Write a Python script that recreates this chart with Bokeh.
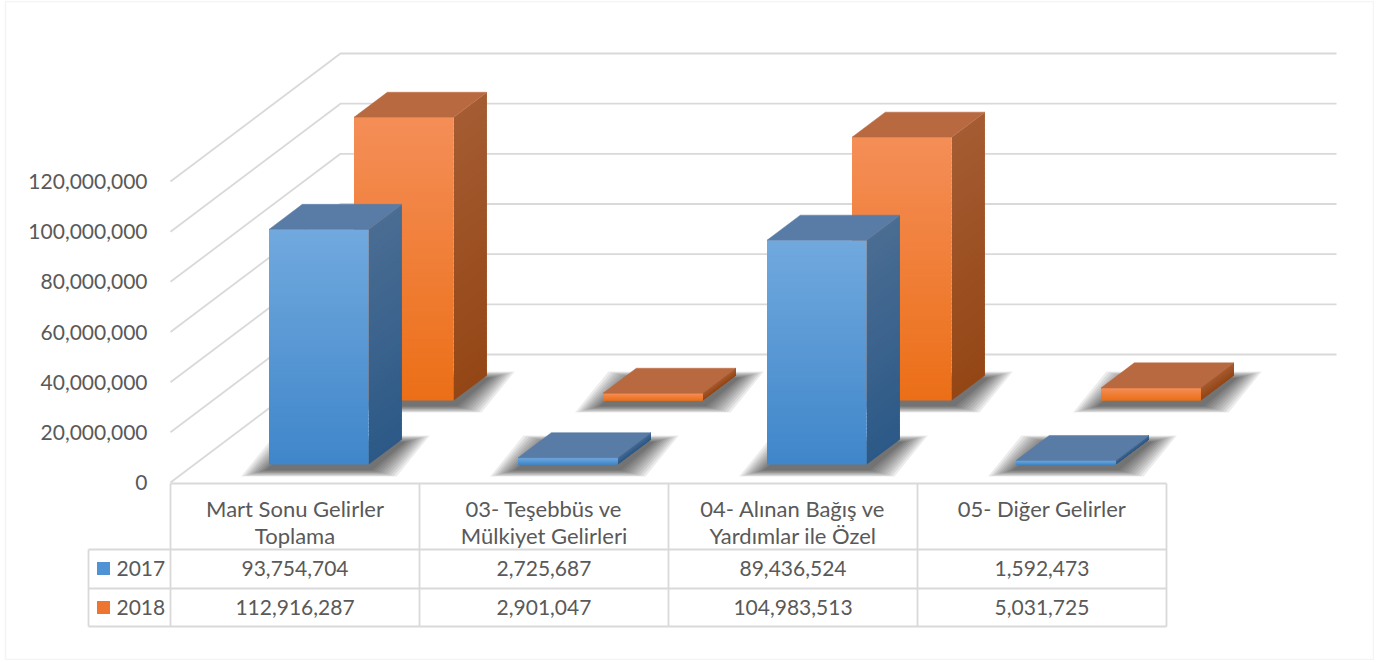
import numpy as np
from bokeh.plotting import figure
from bokeh.models import Range1d, FixedTicker, NumeralTickFormatter, BoxAnnotation
from bokeh.core.properties import value
from bokeh.embed import file_html
from bokeh.resources import INLINE

# ---------------- data ----------------
categories = [
    "Mart Sonu Gelirler\nToplama",
    "03- Teşebbüs ve\nMülkiyet Gelirleri",
    "04- Alınan Bağış ve\nYardımlar ile Özel",
    "05- Diğer Gelirler",
]
series_names = ["2017", "2018"]
values_2017 = [93754704, 2725687, 89436524, 1592473]
values_2018 = [112916287, 2901047, 104983513, 5031725]
y_ticks = [0, 20000000, 40000000, 60000000, 80000000, 100000000, 120000000]

# ---------------- layout (pixels) ----------------
W, H = 1374, 660
ORIGIN_X = 170          # frame px of the front-left floor corner
ORIGIN_Y = 482          # frame px (from top) of value 0 at the front
CAT_PX = 249            # pixels per category
PX_PER_UNIT = 301 / 120e6
DEPTH_PX = (170, 128)   # oblique depth vector (right, up)

DX = DEPTH_PX[0] / CAT_PX
DY = DEPTH_PX[1] / PX_PER_UNIT


def hx(px):
    return px / CAT_PX


def vy(px):
    return px / PX_PER_UNIT


x_range = Range1d(-ORIGIN_X / CAT_PX, (W - ORIGIN_X) / CAT_PX)
y_range = Range1d(-(H - ORIGIN_Y) / PX_PER_UNIT, ORIGIN_Y / PX_PER_UNIT)

FONT = "Lato"
TXT = "#595959"
GRID = "#d9d9d9"

p = figure(width=W, height=H, x_range=x_range, y_range=y_range,
           output_backend="svg", toolbar_location=None, min_border=0,
           x_axis_location=None, y_axis_location="left")
p.grid.visible = False
p.outline_line_color = None
p.background_fill_color = "white"
p.border_fill_color = "white"

# chart border
p.add_layout(BoxAnnotation(left=hx(5 - ORIGIN_X), right=hx(1373 - ORIGIN_X),
                           top=vy(ORIGIN_Y - 1), bottom=-vy(659 - ORIGIN_Y),
                           fill_alpha=0, line_color=GRID, line_width=1.5))

yax = p.yaxis[0]
yax.fixed_location = 0
yax.ticker = FixedTicker(ticks=y_ticks)
yax.formatter = NumeralTickFormatter(format="0,0")
yax.axis_line_color = None
yax.major_tick_line_color = None
yax.minor_tick_line_color = None
yax.major_tick_out = 0
yax.major_label_standoff = 23
yax.major_label_text_font = FONT
yax.major_label_text_font_size = "21px"
yax.major_label_text_color = TXT

ncat = len(categories)

# ---------------- walls ----------------
wx, wy = [], []
for t in y_ticks:
    wx.append([0, DX, ncat + DX])
    wy.append([t, t + DY, t + DY])
p.multi_line(wx, wy, line_color=GRID, line_width=1.8)


# ---------------- bars ----------------
def hex2rgb(h):
    h = h.lstrip("#")
    return np.array([int(h[i:i + 2], 16) for i in (0, 2, 4)], dtype=float)


def lerp(c0, c1, t):
    a, b = hex2rgb(c0), hex2rgb(c1)
    c = a + (b - a) * t
    return "#%02x%02x%02x" % tuple(int(round(x)) for x in c)


STYLE = {
    0: dict(front=("#3f86ca", "#71a9de"), side=("#2c5987", "#4a6d93"), top="#587ca6"),
    1: dict(front=("#ec6f17", "#f48e58"), side=("#944615", "#a55c32"), top="#b8693f"),
}
series_values = [values_2017, values_2018]
BAR_W = 0.4
SLOT_D0 = [0.14, 0.64]
BAR_D = 0.196
NS = 60
OVL = vy(1.0)

for s in (1, 0):
    vals = series_values[s]
    st = STYLE[s]
    d0 = SLOT_D0[s]
    d1 = d0 + BAR_D
    # soft shadows on the floor
    sh_x, sh_y = [], []
    NL = 10
    for i, v in enumerate(vals):
        x0 = i + 0.5 - BAR_W / 2
        x1 = i + 0.5 + BAR_W / 2
        for k in range(NL):
            f = 1 - k / NL
            ex = hx(27 * f + 1)
            ey = vy(7 * f + 1)
            off = vy(4)
            sh_x.append([x0 + d0 * DX - ex, x1 + d0 * DX + ex, x1 + d1 * DX + ex, x0 + d1 * DX - ex])
            sh_y.append([d0 * DY - ey - off, d0 * DY - ey - off, d1 * DY + ey - off, d1 * DY + ey - off])
    p.patches(sh_x, sh_y, fill_color="black", fill_alpha=0.075, line_color=None)

    fl, fr, fb, ft, fc = [], [], [], [], []
    sx, sy, sc = [], [], []
    tx, ty = [], []
    for i, v in enumerate(vals):
        x0 = i + 0.5 - BAR_W / 2
        x1 = i + 0.5 + BAR_W / 2
        for j in range(NS):
            va = v * j / NS
            vb = v * (j + 1) / NS
            if j < NS - 1:
                vb = min(vb + OVL, v)
            tt = (j + 0.5) / NS
            fl.append(x0 + d0 * DX)
            fr.append(x1 + d0 * DX)
            fb.append(va + d0 * DY)
            ft.append(vb + d0 * DY)
            fc.append(lerp(st["front"][0], st["front"][1], tt))
            sx.append([x1 + d0 * DX, x1 + d1 * DX, x1 + d1 * DX, x1 + d0 * DX])
            sy.append([va + d0 * DY, va + d1 * DY, vb + d1 * DY, vb + d0 * DY])
            sc.append(lerp(st["side"][0], st["side"][1], tt))
        tx.append([x0 + d0 * DX, x1 + d0 * DX, x1 + d1 * DX, x0 + d1 * DX])
        ty.append([v + d0 * DY, v + d0 * DY, v + d1 * DY, v + d1 * DY])
    p.patches(sx, sy, fill_color=sc, line_color=None)
    p.quad(left=fl, right=fr, bottom=fb, top=ft, fill_color=fc, line_color=None)
    p.patches(tx, ty, fill_color=st["top"], line_color=st["top"], line_width=0.5)

# ---------------- data table ----------------
# vertical pixel offsets below the front floor edge
T_TOP, HDR_L1, HDR_L2, R1_TOP, R1_C, R2_TOP, R2_C, T_BOT = 1, 26, 53, 67, 86, 106, 125, 144
LEG_LEFT = -82

hx_lines, hy_lines = [], []
hx_lines.append([0, ncat]); hy_lines.append([-vy(T_TOP), -vy(T_TOP)])
for off in (R1_TOP, R2_TOP, T_BOT):
    hx_lines.append([hx(LEG_LEFT), ncat]); hy_lines.append([-vy(off), -vy(off)])
for i in range(ncat + 1):
    hx_lines.append([i, i]); hy_lines.append([-vy(T_TOP), -vy(T_BOT)])
hx_lines.append([hx(LEG_LEFT), hx(LEG_LEFT)]); hy_lines.append([-vy(R1_TOP), -vy(T_BOT)])
p.multi_line(hx_lines, hy_lines, line_color=GRID, line_width=1.8)

# header
hdr_x, hdr_y, hdr_t = [], [], []
for i, name in enumerate(categories):
    for k, line in enumerate(name.split("\n")):
        hdr_x.append(i + 0.5)
        hdr_y.append(-vy(HDR_L1 if k == 0 else HDR_L2))
        hdr_t.append(line)
p.text(hdr_x, hdr_y, text=hdr_t, text_align="center", text_baseline="middle",
       text_font=value(FONT), text_font_size="22px", text_color=TXT)

# values
val_x, val_y, val_t = [], [], []
for s, vals in enumerate(series_values):
    for i, v in enumerate(vals):
        val_x.append(i + 0.5)
        val_y.append(-vy(R1_C if s == 0 else R2_C))
        val_t.append(f"{v:,}")
p.text(val_x, val_y, text=val_t, text_align="center", text_baseline="middle",
       text_font=value(FONT), text_font_size="21px", text_color=TXT)

# legend keys
key_y = [-vy(R1_C), -vy(R2_C)]
p.scatter([hx(-67), hx(-67)], key_y, marker="square", size=13,
          fill_color=["#4f93d4", "#ee7530"], line_color=None)
p.text([hx(-54), hx(-54)], key_y, text=series_names, text_align="left", text_baseline="middle",
       text_font=value(FONT), text_font_size="21px", text_color=TXT)

open("out.html", "w").write(file_html(p, INLINE))
